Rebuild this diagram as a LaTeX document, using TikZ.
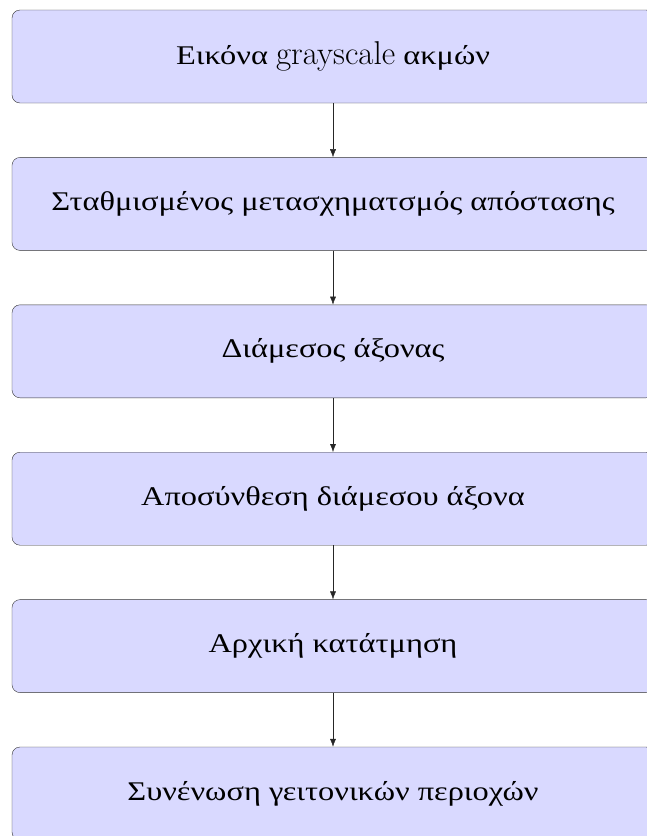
\documentclass[tikz,border=0pt]{standalone}
\usepackage{fontspec}
\newfontfamily\greekfont{Liberation Serif}[FakeStretch=1.2]
\newfontfamily\latinfont{Latin Modern Roman}
\usetikzlibrary{positioning,arrows.meta}
\begin{document}
\begin{tikzpicture}[x=1pt,y=1pt]
\tikzstyle{stage}=[rectangle,rounded corners=8pt,draw=black!80,fill=blue!15,minimum width=642pt,minimum height=93pt,font=\fontsize{27}{32}\selectfont\greekfont]
\useasboundingbox (0,0) rectangle (646,-836);

\node[stage] (s1) at (333,-56.5) {Εικόνα {\fontsize{33}{32}\latinfont grayscale} ακμών};
\node[stage,below=54pt of s1] (s2) {Σταθμισμένος μετασχηματσμός απόστασης};
\node[stage,below=54pt of s2] (s3) {Διάμεσος άξονας};
\node[stage,below=54pt of s3] (s4) {Αποσύνθεση διάμεσου άξονα};
\node[stage,below=54pt of s4] (s5) {Αρχική κατάτμηση};
\node[stage,below=54pt of s5] (s6) {Συνένωση γειτονικών περιοχών};

\draw[-{Latex[length=8pt,width=6pt]},black!85] (s1) to (s2);
\draw[-{Latex[length=8pt,width=6pt]},black!85] (s2) to (s3);
\draw[-{Latex[length=8pt,width=6pt]},black!85] (s3) to (s4);
\draw[-{Latex[length=8pt,width=6pt]},black!85] (s4) to (s5);
\draw[-{Latex[length=8pt,width=6pt]},black!85] (s5) to (s6);

\end{tikzpicture}
\end{document}
